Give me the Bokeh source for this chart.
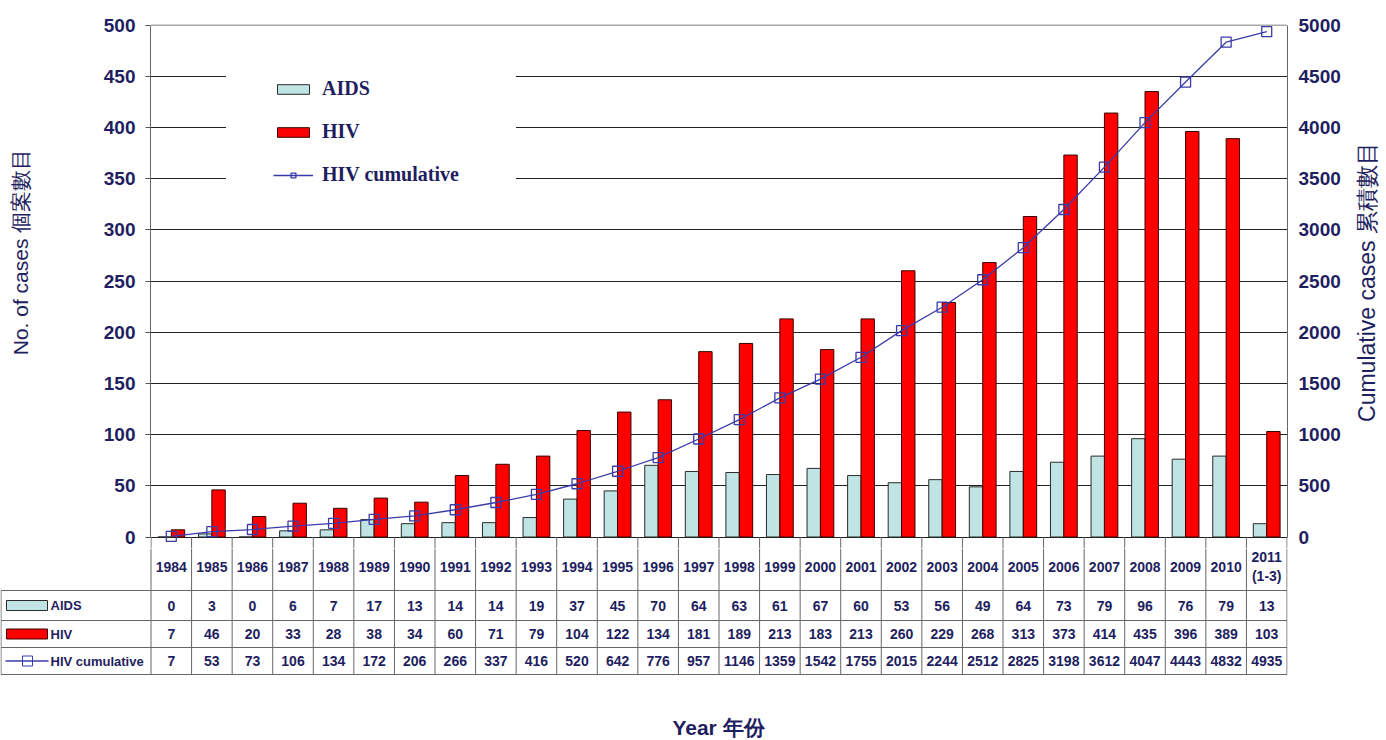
import math
import numpy as np
from bokeh.plotting import figure
from bokeh.models import Range1d, LinearAxis, Legend, LegendItem, FixedTicker, BoxAnnotation
from bokeh.layouts import row
from bokeh.embed import file_html
from bokeh.resources import INLINE
from bokeh.core.properties import value

# ---------------- data ----------------
years = ["1984", "1985", "1986", "1987", "1988", "1989", "1990", "1991", "1992", "1993",
         "1994", "1995", "1996", "1997", "1998", "1999", "2000", "2001", "2002", "2003",
         "2004", "2005", "2006", "2007", "2008", "2009", "2010", "2011\n(1-3)"]
aids = [0, 3, 0, 6, 7, 17, 13, 14, 14, 19, 37, 45, 70, 64, 63, 61, 67, 60, 53, 56,
        49, 64, 73, 79, 96, 76, 79, 13]
hiv = [7, 46, 20, 33, 28, 38, 34, 60, 71, 79, 104, 122, 134, 181, 189, 213, 183, 213, 260, 229,
       268, 313, 373, 414, 435, 396, 389, 103]
hiv_cum = [7, 53, 73, 106, 134, 172, 206, 266, 337, 416, 520, 642, 776, 957, 1146, 1359, 1542,
           1755, 2015, 2244, 2512, 2825, 3198, 3612, 4047, 4443, 4832, 4935]
series_names = ["AIDS", "HIV", "HIV cumulative"]
left_ticks = list(range(0, 501, 50))
right_ticks = list(range(0, 5001, 500))
left_title = "No. of cases 個案數目"
right_title = "Cumulative cases 累積數目"
x_title = "Year 年份"

# ---------------- style / layout ----------------
NAVY = "#1E1E60"
AIDS_C = "#C0E4E4"
HIV_C = "#FF0000"
CUM_C = "#3A3AAA"
GRID_C = "#666666"
SANS = "Liberation Sans"

W = 1384
n = len(years)
CW = 1136 / n            # px per category
FRAME_L = 150            # page x of plot frame left
FRAME_R = 1287           # page x of plot frame right
TOP = 24                 # page y of value 500
ZERO = 536               # page y of value 0
STRIP = 12               # frame extends below 0 (top of table)
PY = (ZERO - TOP) / 500  # px per unit
LW = 40                  # width of left title strip
RW = 36                  # width of right title strip
PH = ZERO + STRIP
x = np.arange(n) + 0.5

# ---------------- chart ----------------
yr = Range1d(-(STRIP - 0.5) / PY, 500 + 0.5 / PY)
p = figure(width=W - LW - RW, height=PH,
           x_range=Range1d(-0.5 / CW, n + 0.5 / CW), y_range=yr,
           output_backend="svg", toolbar_location=None,
           min_border_left=FRAME_L - LW, min_border_right=W - RW - FRAME_R,
           min_border_top=TOP, min_border_bottom=0,
           x_axis_location=None, y_axis_location="left")
p.outline_line_color = None
p.xgrid.visible = False
p.ygrid.ticker = FixedTicker(ticks=left_ticks[:-1])
p.ygrid.grid_line_color = "#222222"
p.ygrid.grid_line_width = 1

p.extra_y_ranges = {"cum": Range1d(-(STRIP - 0.5) / PY * 10, 5000 + 5 / PY)}
raxis = LinearAxis(y_range_name="cum")
p.add_layout(raxis, "right")

lax = p.yaxis[0]
lax.ticker = FixedTicker(ticks=left_ticks)
lax.bounds = (0, 500)
lax.major_tick_out = 5
lax.major_tick_in = 0
lax.major_label_standoff = 10

raxis.ticker = FixedTicker(ticks=right_ticks)
raxis.bounds = (0, 5000)
raxis.major_tick_out = 0
raxis.major_tick_in = 0
raxis.major_label_standoff = 11

for ax in (lax, raxis):
    ax.minor_tick_line_color = None
    ax.axis_line_color = "#666666"
    ax.major_tick_line_color = "#555555"
    ax.major_label_text_font = SANS
    ax.major_label_text_font_style = "bold"
    ax.major_label_text_font_size = "19px"
    ax.major_label_text_color = NAVY

# top border of the plot area
p.segment(x0=[0], y0=[500], x1=[n], y1=[500], line_color="#555555", line_width=1)
# column separators of the table's first row (part inside this figure)
p.segment(x0=list(range(n + 1)), y0=[-STRIP / PY] * (n + 1), x1=list(range(n + 1)), y1=[0] * (n + 1),
          line_color=GRID_C, line_width=1)

# white area behind the legend (gridlines are interrupted there)
p.add_layout(BoxAnnotation(left=(225 - FRAME_L) / CW, right=(515 - FRAME_L) / CW,
                           bottom=(ZERO - 200) / PY, top=(ZERO - 50) / PY,
                           fill_color="white", fill_alpha=1, line_color=None, level="underlay"))

r_aids = p.vbar(x=x - 0.165, top=aids, width=0.33, bottom=0,
                fill_color=AIDS_C, line_color="#2A2A2A", line_width=1)
r_hiv = p.vbar(x=x + 0.165, top=hiv, width=0.33, bottom=0,
               fill_color=HIV_C, line_color="#3A0000", line_width=1)
r_line = p.line(x, hiv_cum, y_range_name="cum", line_color=CUM_C, line_width=1.3)
r_pts = p.scatter(x, hiv_cum, y_range_name="cum", marker="square", size=10,
                  fill_color=None, line_color=CUM_C, line_width=1.3)

legend = Legend(items=[LegendItem(label=series_names[0], renderers=[r_aids]),
                       LegendItem(label=series_names[1], renderers=[r_hiv]),
                       LegendItem(label=series_names[2], renderers=[r_line, r_pts])],
                location=(123, 362), orientation="vertical")
legend.margin = 0
legend.padding = 5
legend.spacing = 20
legend.glyph_width = 40
legend.glyph_height = 12
legend.label_height = 23
legend.label_standoff = 9
legend.border_line_color = None
legend.background_fill_color = "white"
legend.background_fill_alpha = 1
legend.label_text_font = "Liberation Serif"
legend.label_text_font_style = "bold"
legend.label_text_font_size = "20px"
legend.label_text_color = NAVY
p.add_layout(legend, "center")


# ---------------- axis titles (narrow side strips, bottom-to-top text) ----------------
def title_strip(width, cx, cy_page, text, size):
    f = figure(width=width, height=PH, x_range=Range1d(0, width), y_range=yr,
               output_backend="svg", toolbar_location=None,
               min_border_left=0, min_border_right=0, min_border_top=TOP, min_border_bottom=0,
               x_axis_location=None, y_axis_location=None)
    f.outline_line_color = None
    f.xgrid.visible = False
    f.ygrid.visible = False
    f.text(x=[cx], y=[(ZERO - cy_page) / PY], text=[text], angle=math.pi / 2,
           text_align="center", text_baseline="middle", text_font=value(SANS),
           text_font_size=size, text_color=NAVY)
    return f


lt = title_strip(LW, 20, 251, left_title, "21px")
rt = title_strip(RW, 1366 - (W - RW), 281, right_title, "23px")

# ---------------- data table ----------------
TH = 190
t = figure(width=W, height=TH,
           x_range=Range1d(-(FRAME_L + 0.5) / CW, n + 0.5 / CW), y_range=Range1d(TH, 0),
           output_backend="svg", toolbar_location=None,
           min_border_left=0, min_border_right=W - FRAME_R, min_border_top=0, min_border_bottom=0,
           x_axis_location=None, y_axis_location=None)
t.outline_line_color = None
t.xgrid.visible = False
t.ygrid.visible = False

off = PH  # page y of this figure's top
rows = [590 - off, 620 - off, 647 - off, 674 - off]
xl = -FRAME_L / CW
t.segment(x0=list(range(n + 1)), y0=[0] * (n + 1), x1=list(range(n + 1)), y1=[rows[-1]] * (n + 1),
          line_color=GRID_C, line_width=1)
t.segment(x0=[xl] * 4, y0=rows, x1=[n] * 4, y1=rows, line_color=GRID_C, line_width=1)
t.segment(x0=[xl], y0=[rows[0]], x1=[xl], y1=[rows[-1]], line_color=GRID_C, line_width=1)

year_mid = 566 - off
mids = [(rows[i] + rows[i + 1]) / 2 for i in range(3)]
txt = dict(text_align="center", text_baseline="middle", text_font=value(SANS),
           text_font_style="bold", text_font_size="14px", text_color=NAVY)
t.text(x=x, y=[year_mid] * n, text=years, text_line_height=1.2, **txt)
t.text(x=x, y=[mids[0]] * n, text=[str(v) for v in aids], **txt)
t.text(x=x, y=[mids[1]] * n, text=[str(v) for v in hiv], **txt)
t.text(x=x, y=[mids[2]] * n, text=[str(v) for v in hiv_cum], **txt)


def px(v):
    return (v - FRAME_L - 0.5) / CW


t.quad(left=[px(6)], right=[px(47)], top=[mids[0] - 5], bottom=[mids[0] + 5],
       fill_color=AIDS_C, line_color="#2A2A2A")
t.quad(left=[px(6)], right=[px(47)], top=[mids[1] - 5], bottom=[mids[1] + 5],
       fill_color=HIV_C, line_color="#3A0000")
t.segment(x0=[px(5)], y0=[mids[2]], x1=[px(48)], y1=[mids[2]], line_color=CUM_C, line_width=1.3)
t.scatter(x=[px(27)], y=[mids[2]], marker="square", size=10, fill_color=None, line_color=CUM_C)
t.text(x=[px(50)] * 3, y=mids, text=series_names, text_align="left", text_baseline="middle",
       text_font=value(SANS), text_font_style="bold", text_font_size="13px", text_color=NAVY)

t.text(x=[px(718)], y=[727 - off], text=[x_title], text_align="center", text_baseline="middle",
       text_font=value(SANS), text_font_style="bold", text_font_size="21px", text_color=NAVY)

top_row = row(lt, p, rt, spacing=0)
open("out.html", "w").write(file_html([top_row, t], INLINE))
